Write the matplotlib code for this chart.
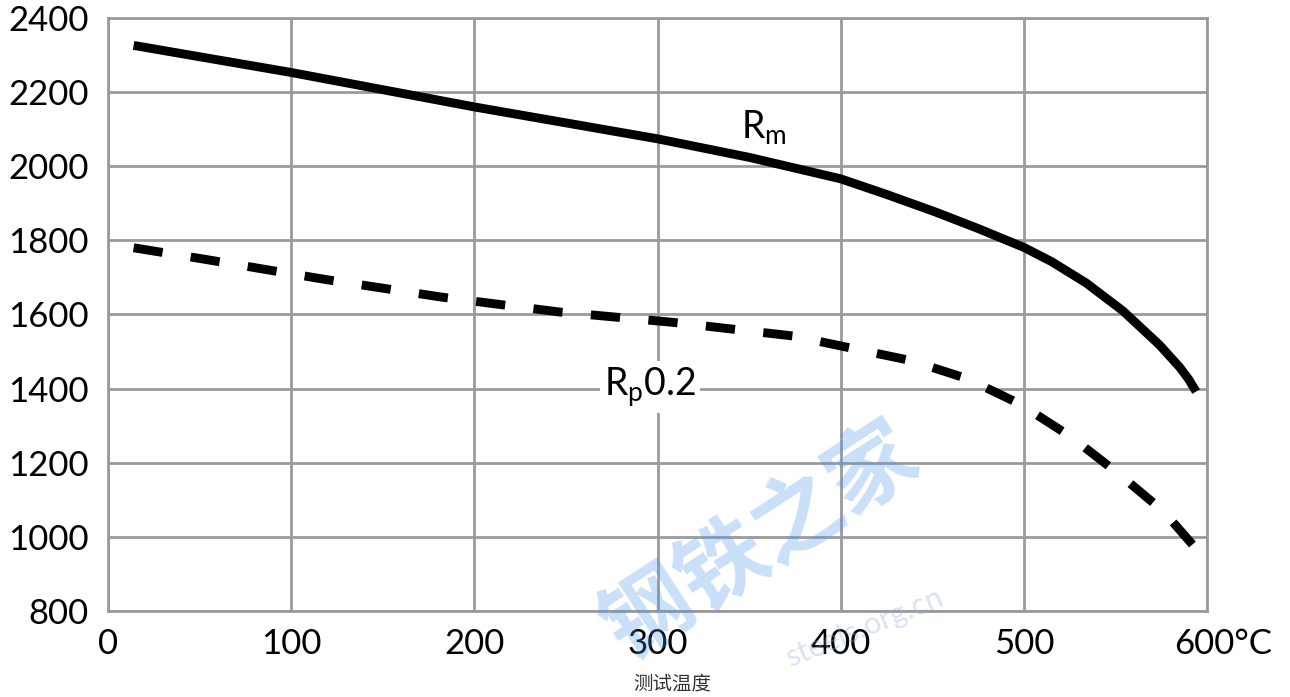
import matplotlib.pyplot as plt

# ── Data ──────────────────────────────────────────────────────────────────────

temp_rm = [14, 100, 200, 300, 350, 400, 425, 452, 475, 500, 515, 534, 554, 574, 585,
           590, 594]
rm_vals = [2326, 2253, 2160, 2074, 2024, 1966, 1924, 1876, 1832, 1781, 1743, 1685,
           1610, 1518, 1458, 1425, 1392]

temp_rp = [14, 54, 118, 182, 246, 308, 374, 438, 469, 498, 526, 551, 576, 599]
rp_vals = [1780, 1748, 1695, 1647, 1607, 1579, 1542, 1476, 1427, 1358, 1269, 1173,
           1070, 940]

x_ticks = [0, 100, 200, 300, 400, 500, 600]
x_labels = ["0", "100", "200", "300", "400", "500", ""]
y_ticks = [800, 1000, 1200, 1400, 1600, 1800, 2000, 2200, 2400]

# ── Style ─────────────────────────────────────────────────────────────────────

plt.rcParams["font.family"] = ["Lato", "DejaVu Sans"]
GRID = "#9a9a9c"
TICK_FS = 25
LABEL_FS = 27
LW = 6.4
CJK = ["Noto Sans CJK SC", "DejaVu Sans"]

fig = plt.figure(figsize=(12.9, 6.97), dpi=100)
ax = fig.add_axes([0.0837, 0.1234, 0.852, 0.8508])

ax.plot(temp_rm, rm_vals, color="black", lw=LW, solid_capstyle="butt",
        solid_joinstyle="round", zorder=3)
ax.plot(temp_rp, rp_vals, color="black", lw=LW, dashes=(3.3, 3.2),
        dash_capstyle="butt", zorder=3)

ax.set_xlim(0, 600)
ax.set_ylim(800, 2400)
ax.set_xticks(x_ticks)
ax.set_xticklabels(x_labels)
ax.set_yticks(y_ticks)
ax.tick_params(length=0, labelsize=TICK_FS)
ax.tick_params(axis="x", pad=12)
ax.tick_params(axis="y", pad=14)
ax.grid(True, color=GRID, lw=2)
for sp in ax.spines.values():
    sp.set_color(GRID)
    sp.set_linewidth(2)

# last x label carries the unit
ax.annotate("600°C", xy=(600, 800), xytext=(-24, -12), textcoords="offset points",
            ha="left", va="top", fontsize=TICK_FS, annotation_clip=False)

# curve labels
ax.text(358, 2103, r"R$_\mathregular{m}$", fontsize=LABEL_FS, ha="center",
        va="center", zorder=4)
ax.text(296, 1404, r"R$_\mathregular{p}$0.2", fontsize=LABEL_FS, ha="center",
        va="center", zorder=4, bbox=dict(facecolor="white", edgecolor="none", pad=3))

fig.text(0.521, 0.003, "测试温度", fontsize=14, ha="center", va="bottom",
         family=CJK, color="#333333")

# faint watermark
fig.text(0.59, 0.22, "钢铁之家", fontsize=64, rotation=33, ha="center", va="center",
         color="#4d97ea", alpha=0.3, family=CJK, fontweight="bold", zorder=5)
fig.text(0.67, 0.10, "steels.org.cn", fontsize=22, rotation=22, ha="center",
         va="center", color="#8fb3d9", alpha=0.35, zorder=5)

fig.savefig("out.png", dpi=100)
